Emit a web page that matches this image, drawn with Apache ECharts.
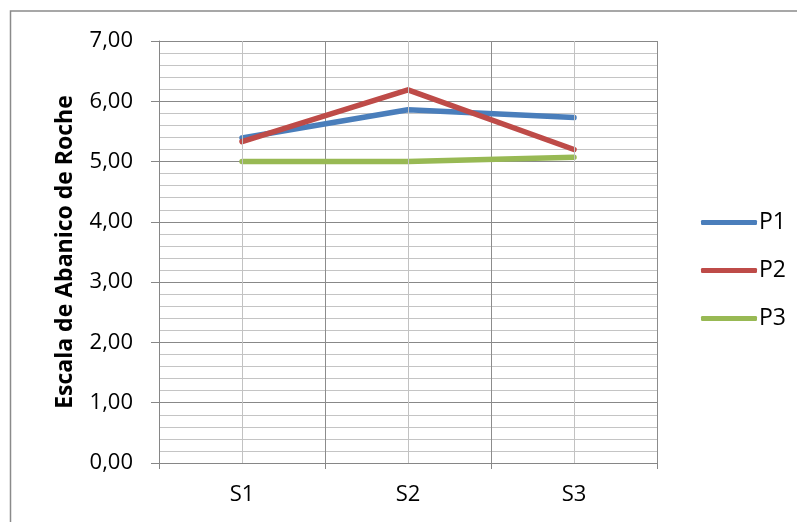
<!DOCTYPE html>
<html>
<head>
<meta charset="utf-8">
<script src="https://cdn.jsdelivr.net/npm/echarts@6/dist/echarts.min.js"></script>
<style>
  html, body { margin: 0; padding: 0; background: #ffffff; }
  #chart { width: 797px; height: 522px; }
</style>
</head>
<body>
<div id="chart"></div>
<script>
// Sessions on the x axis, one line per participant
const categories = ['S1', 'S2', 'S3'];
const p1 = [5.39, 5.86, 5.73];
const p2 = [5.33, 6.19, 5.20];
const p3 = [5.00, 5.00, 5.07];
const yTicks = [0, 1, 2, 3, 4, 5, 6, 7];

const FONT = '"Open Sans", "Liberation Sans", sans-serif';
const fmt = v => v.toFixed(2).replace('.', ',');

const chart = echarts.init(document.getElementById('chart'));

function lineSeries(name, data, color) {
  return {
    name: name,
    type: 'line',
    data: data,
    symbol: 'none',
    z: 3,
    color: color,
    lineStyle: { width: 5.5, color: color, cap: 'round', join: 'round' }
  };
}

chart.setOption({
  backgroundColor: '#ffffff',
  animation: false,
  graphic: [{
    type: 'rect',
    shape: { x: 10.5, y: 11, width: 900, height: 600 },
    style: { fill: 'none', stroke: '#8a8a8a', lineWidth: 1.5 },
    silent: true,
    z: -10
  }],
  grid: { left: 159, right: 140, top: 41, bottom: 59 },
  legend: {
    orient: 'vertical',
    left: 696,
    top: 206,
    data: ['P1', 'P2', 'P3'],
    icon: 'roundRect',
    itemWidth: 56,
    itemHeight: 5,
    itemGap: 25,
    textStyle: { fontFamily: FONT, fontSize: 23, color: '#000000', padding: [0, 0, 0, -3] }
  },
  xAxis: {
    type: 'category',
    data: categories,
    boundaryGap: true,
    axisLine: { show: true, lineStyle: { color: '#868686', width: 1 } },
    axisTick: { show: true, length: 6, lineStyle: { color: '#868686' } },
    axisLabel: { fontFamily: FONT, fontSize: 22, color: '#000000', margin: 21 },
    splitLine: { show: true, lineStyle: { color: '#8c8c8c', width: 1 } }
  },
  yAxis: {
    type: 'value',
    min: yTicks[0],
    max: yTicks[yTicks.length - 1],
    interval: 1,
    name: 'Escala de Abanico de Roche',
    nameLocation: 'middle',
    nameGap: 82,
    nameRotate: 90,
    nameTextStyle: { fontFamily: FONT, fontSize: 23, fontWeight: 'bold', color: '#000000' },
    axisLine: { show: true, lineStyle: { color: '#868686', width: 1 } },
    axisTick: { show: true, length: 8, lineStyle: { color: '#868686' } },
    axisLabel: { fontFamily: FONT, fontSize: 22, color: '#000000', margin: 26, formatter: fmt },
    splitLine: { show: true, lineStyle: { color: '#888888', width: 1 } },
    minorTick: { show: false, splitNumber: 5 },
    minorSplitLine: { show: true, lineStyle: { color: '#c4c4c4', width: 1 } }
  },
  series: [
    {
      name: 'centers',
      type: 'line',
      data: [],
      z: 1,
      silent: true,
      markLine: {
        silent: true,
        symbol: ['none', 'none'],
        label: { show: false },
        lineStyle: { color: '#c2c2c2', width: 1, type: 'solid' },
        data: categories.map(c => ({ xAxis: c }))
      }
    },
    lineSeries('P1', p1, '#4a7ebb'),
    lineSeries('P2', p2, '#be4b48'),
    lineSeries('P3', p3, '#98b954')
  ]
});
</script>
</body>
</html>
